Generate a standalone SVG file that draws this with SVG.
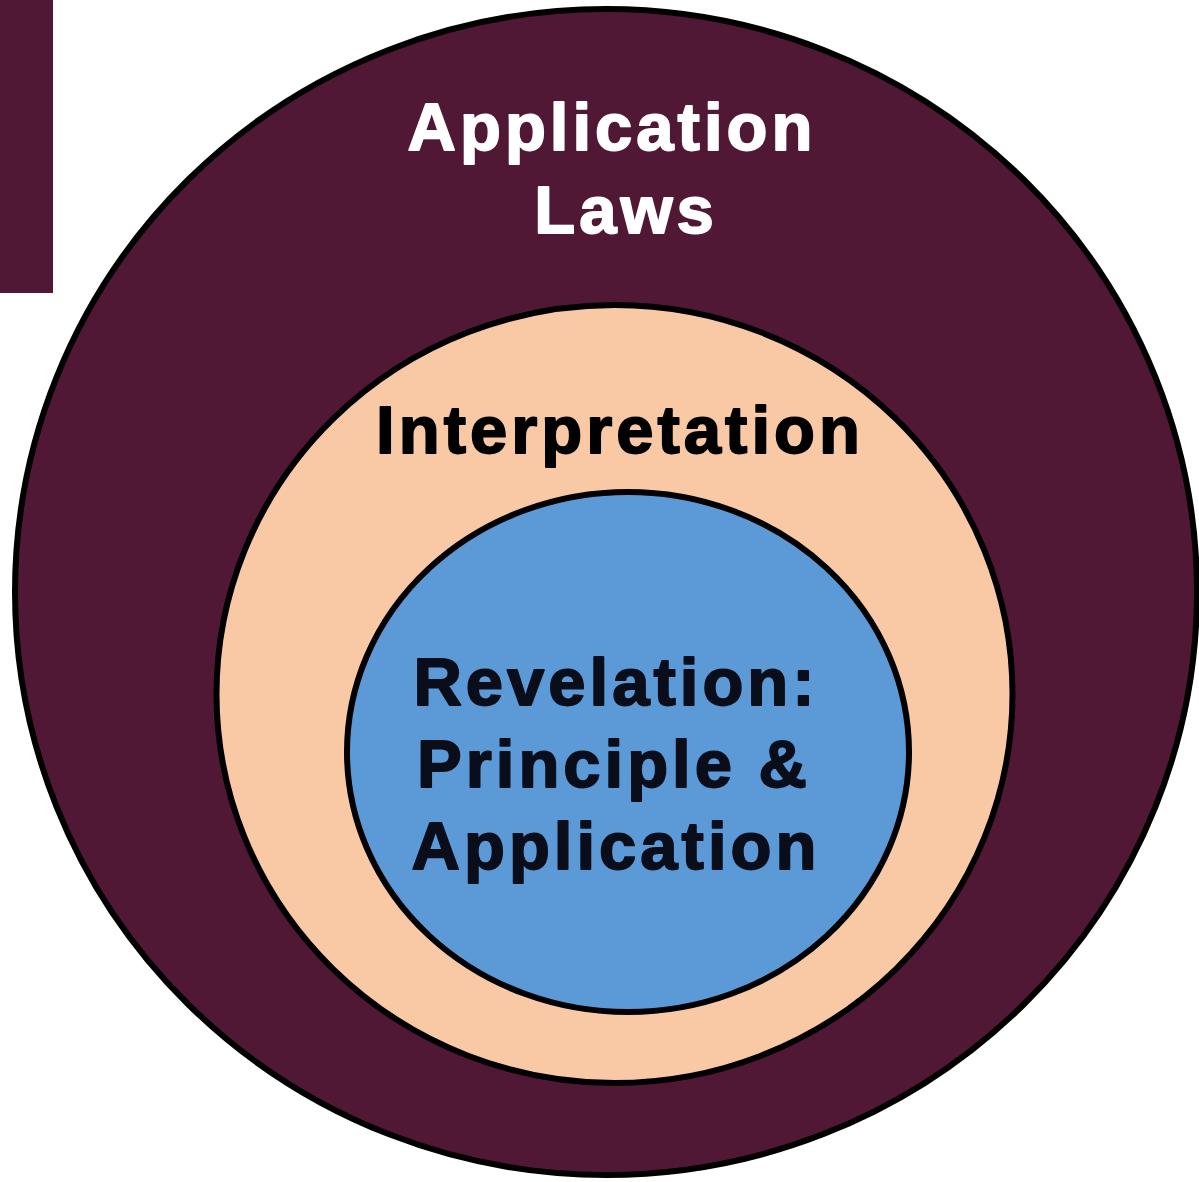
<svg xmlns="http://www.w3.org/2000/svg" width="1199" height="1182" viewBox="0 0 1199 1182">
  <style>
    .ring { stroke: #000; stroke-width: 6; }
    .lbl { font-family: "Liberation Sans", Arial, sans-serif; font-weight: bold; font-size: 67px; letter-spacing: 4px; text-anchor: middle; stroke-width: 1.8px; stroke-linejoin: round; }
    .w { fill: #ffffff; stroke: #ffffff; }
    .k { fill: #000000; stroke: #000000; }
    .n { fill: #0a0d1a; stroke: #0a0d1a; }
  </style>
  <rect x="0" y="0" width="1199" height="1182" fill="#ffffff"/>
  <g id="corner-block">
    <rect x="0" y="0" width="53" height="293" fill="#501834"/>
  </g>
  <g id="outer">
    <ellipse class="ring" cx="606" cy="592" rx="591" ry="583" fill="#501834"/>
    <text class="lbl w" x="612" y="150">Application</text>
    <text class="lbl w" x="626" y="233">Laws</text>
  </g>
  <g id="middle">
    <ellipse class="ring" cx="614.5" cy="694" rx="398" ry="389" fill="#F8C9A4"/>
    <text class="lbl k" x="620" y="453">Interpretation</text>
  </g>
  <g id="inner">
    <ellipse class="ring" cx="628" cy="752" rx="281" ry="260" fill="#5B9AD6"/>
    <text class="lbl n" x="616" y="705">Revelation:</text>
    <text class="lbl n" x="614" y="787">Principle &amp;</text>
    <text class="lbl n" x="616" y="869">Application</text>
  </g>
  <g id="connectors"></g>
</svg>
